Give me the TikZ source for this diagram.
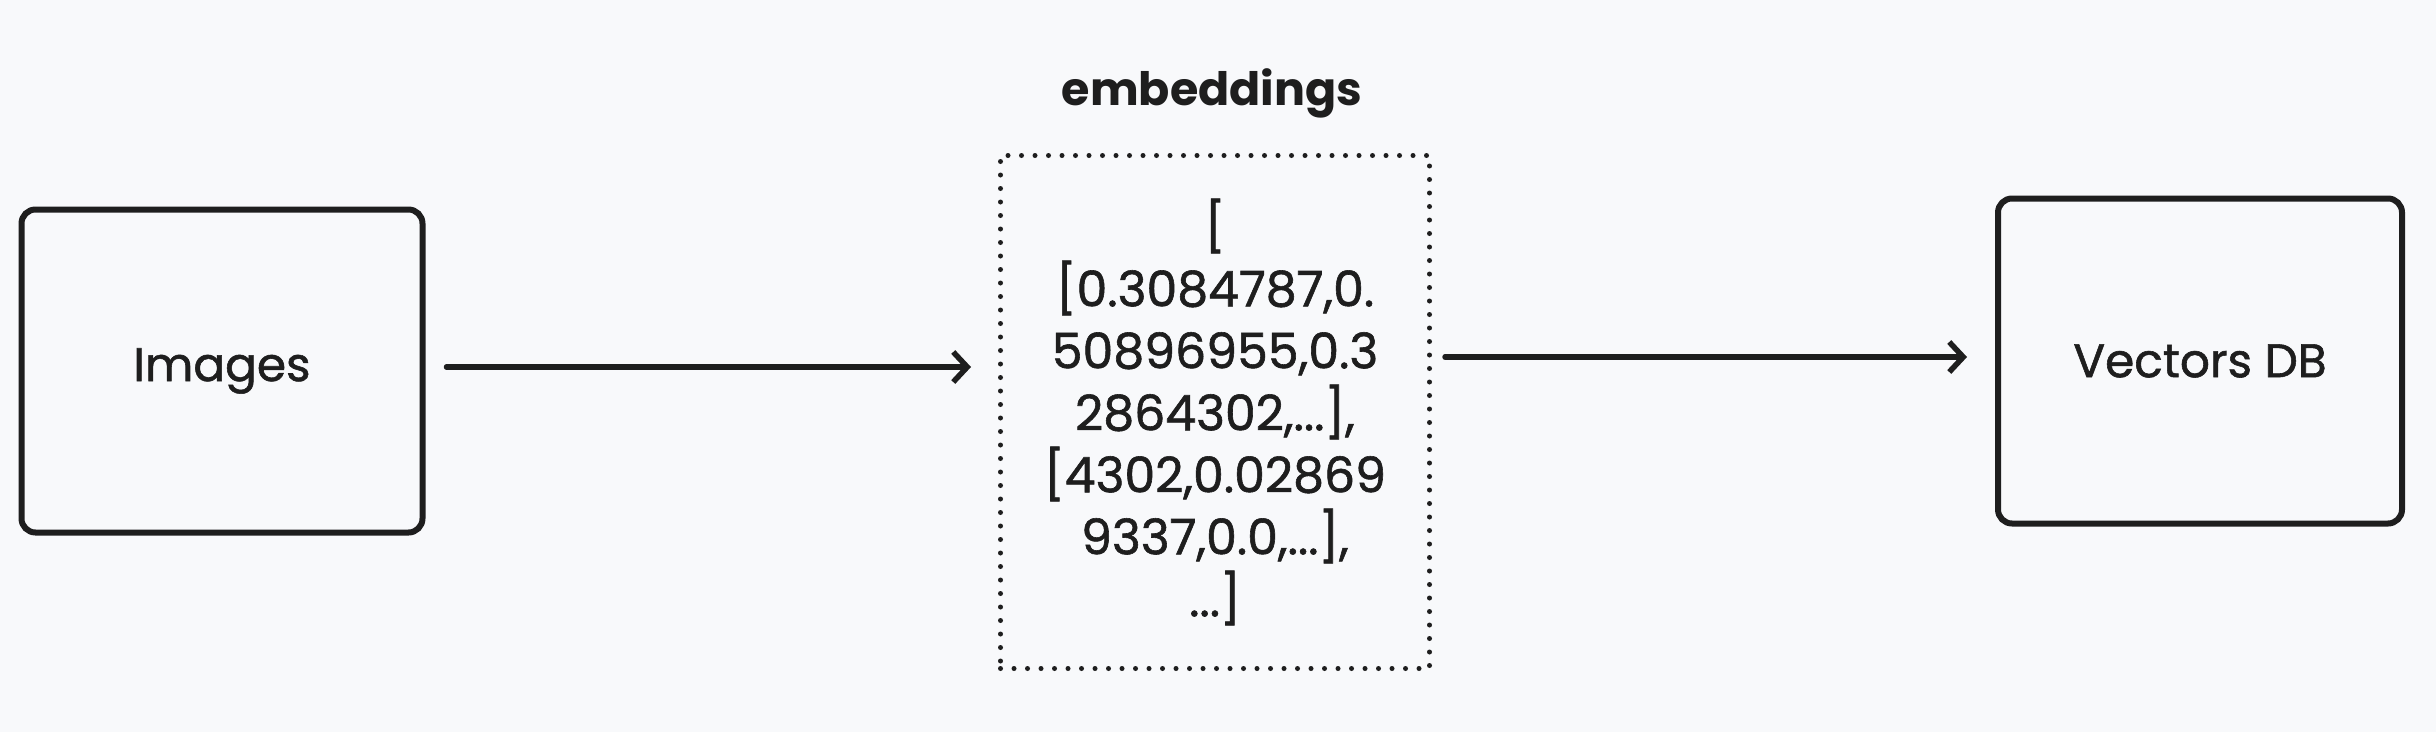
\documentclass[tikz,border=0pt]{standalone}
\usepackage{fontspec}
\setmainfont{Poppins}
\newfontfamily\hand{Poppins}[FakeBold=1.2]
\usetikzlibrary{arrows.meta}
\definecolor{bg}{HTML}{F8F9FB}
\definecolor{ink}{HTML}{1E1E1E}
\begin{document}
\begin{tikzpicture}[x=1pt,y=-1pt,
  box/.style={draw=ink,line width=6pt,rounded corners=14pt,inner sep=0pt,
    font=\hand\fontsize{47}{52}\selectfont\color{ink}},
  dotbox/.style={draw=ink,line width=5pt,dash pattern=on 0pt off 13.5pt,line cap=round,
    inner sep=0pt,align=center,font=\hand\fontsize{49}{62}\selectfont\color{ink}},
  arr/.style={draw=ink,line width=5.5pt,line cap=round,
    -{Straight Barb[length=14pt,width=30pt,line width=5.5pt]}},
  lbl/.style={font=\fontsize{46}{52}\selectfont\bfseries\color{ink}}]
\fill[bg] (0,0) rectangle (2436,732);
\useasboundingbox (0,0) rectangle (2436,732);
\node[box,minimum width=401pt,minimum height=323pt] (img) at (222,371) {Images};
\node[dotbox,minimum width=429pt,minimum height=513pt] (emb) at (1215,412)
  {{[}\\ {[}0.3084787,0.\\ 50896955,0.3\\ 2864302,...],\\ {[}4302,0.02869\\ 9337,0.0,...],\\ ...]};
\node[lbl] (embl) at (1212,93) {embeddings};
\node[box,minimum width=404pt,minimum height=325pt] (vdb) at (2200,361) {Vectors DB};
\draw[arr,shorten <=21pt,shorten >=27pt] ([yshift=4pt]img.east) -- ([yshift=4pt]img.east -| emb.west);
\draw[arr,shorten <=13pt,shorten >=28pt] ([yshift=4pt]vdb.west -| emb.east) -- ([yshift=4pt]vdb.west);
\end{tikzpicture}
\end{document}
